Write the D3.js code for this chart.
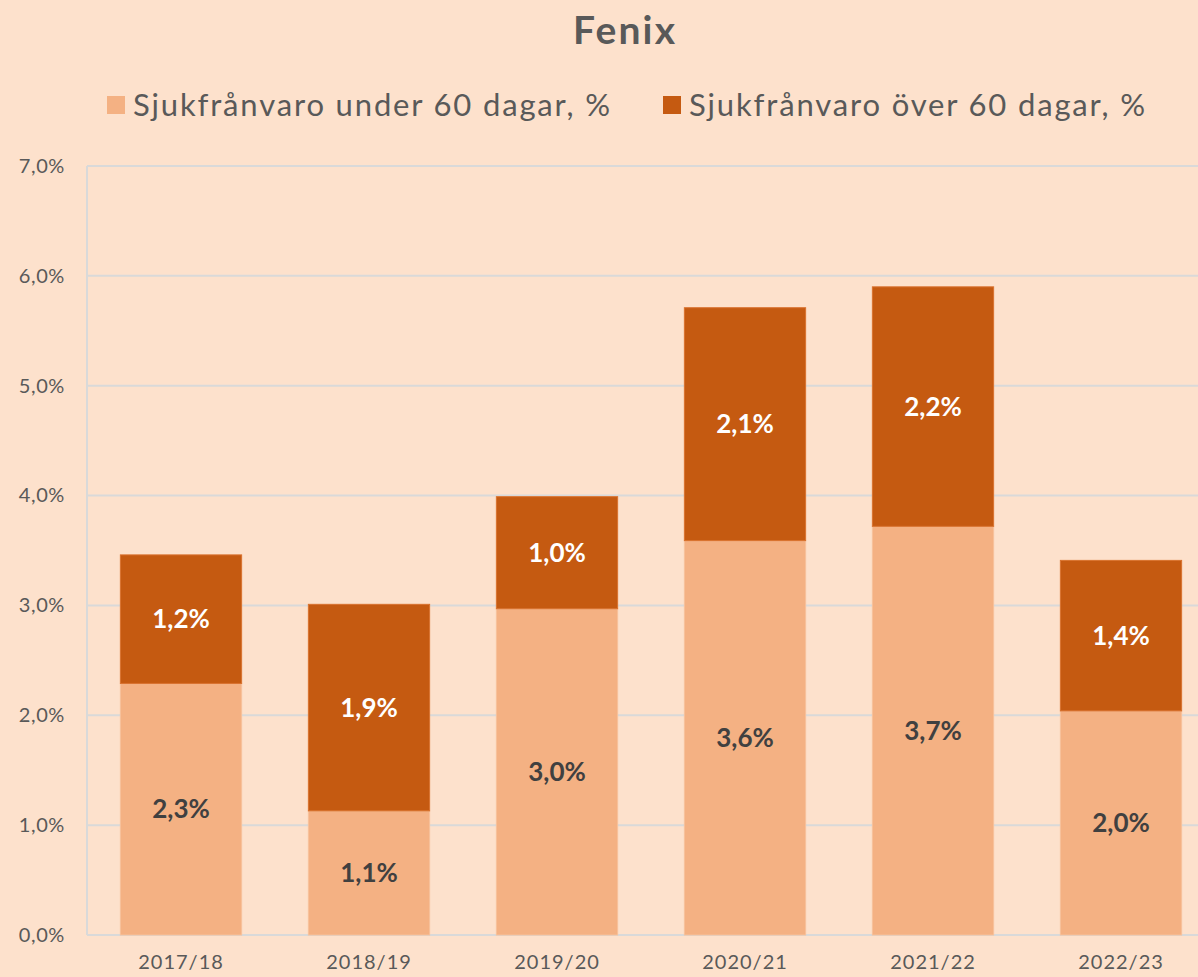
<!DOCTYPE html>
<html>
<head>
<meta charset="utf-8">
<script src="https://cdn.jsdelivr.net/npm/d3@7"></script>
<style>
  body { margin: 0; padding: 0; background: #FDE1CC; }
  svg { display: block; font-family: Lato, "Open Sans", sans-serif; }
</style>
</head>
<body>
<div id="chart"></div>
<script>
const categories = ['2017/18', '2018/19', '2019/20', '2020/21', '2021/22', '2022/23'];
const under60 = [2.29, 1.13, 2.97, 3.59, 3.72, 2.04];
const over60 = [1.17, 1.88, 1.02, 2.12, 2.18, 1.37];
const seriesNames = ['Sjukfrånvaro under 60 dagar, %', 'Sjukfrånvaro över 60 dagar, %'];
const yTicks = [0, 1, 2, 3, 4, 5, 6, 7];

const width = 1198, height = 977;
const colors = ['#F4B183', '#C55A11'];
const labelColors = ['#404040', '#ffffff'];
const fmt = v => d3.format('.1f')(v).replace('.', ',') + '%';

const svg = d3.select('#chart').append('svg')
    .attr('width', width).attr('height', height);

svg.append('rect').attr('width', width).attr('height', height).attr('fill', '#FDE1CC');

// plot area (right side runs off the picture, as in the original)
const x = d3.scaleBand().domain(categories).range([87, 1215]).paddingInner(0.355).paddingOuter(0.1775);
const y = d3.scaleLinear().domain([0, 7]).range([935, 166]);

// gridlines
svg.append('g').selectAll('line').data(yTicks).enter().append('line')
    .attr('x1', 87).attr('x2', width)
    .attr('y1', d => y(d)).attr('y2', d => y(d))
    .attr('stroke', '#D9D9D9').attr('stroke-width', 2);
svg.append('line').attr('x1', 87).attr('x2', 87).attr('y1', y(7)).attr('y2', y(0))
    .attr('stroke', '#D9D9D9').attr('stroke-width', 2);

// y axis labels
const yAxis = d3.axisLeft(y).tickValues(yTicks).tickSize(0).tickPadding(22)
    .tickFormat(d => d3.format('.1f')(d).replace('.', ',') + '%');
svg.append('g').attr('transform', 'translate(87,0)').call(yAxis)
    .call(g => g.select('.domain').remove())
    .selectAll('text').attr('font-size', 20).attr('fill', '#595959')
    .attr('font-family', 'Lato, sans-serif').attr('letter-spacing', 0.6);

// x axis labels
const xAxis = d3.axisBottom(x).tickSize(0).tickPadding(20);
svg.append('g').attr('transform', 'translate(0,' + y(0) + ')').call(xAxis)
    .call(g => g.select('.domain').remove())
    .selectAll('text').attr('font-size', 20).attr('fill', '#595959')
    .attr('font-family', 'Lato, sans-serif').attr('letter-spacing', 1);

// stacked bars
const rows = categories.map((c, i) => ({ cat: c, under: under60[i], over: over60[i] }));
const stack = d3.stack().keys(['under', 'over'])(rows);

stack.forEach((layer, k) => {
    const g = svg.append('g');
    g.selectAll('rect').data(layer).enter().append('rect')
        .attr('x', d => x(d.data.cat))
        .attr('width', x.bandwidth())
        .attr('y', d => y(d[1]))
        .attr('height', d => y(d[0]) - y(d[1]))
        .attr('fill', colors[k])
        .attr('stroke', k == 0 ? '#F7C19B' : '#D9722E').attr('stroke-width', 1);
    g.selectAll('text').data(layer).enter().append('text')
        .attr('x', d => x(d.data.cat) + x.bandwidth() / 2)
        .attr('y', d => (y(d[0]) + y(d[1])) / 2)
        .attr('dy', '0.35em')
        .attr('text-anchor', 'middle')
        .attr('font-size', 26).attr('font-weight', 'bold')
        .attr('fill', labelColors[k])
        .text(d => fmt(d[1] - d[0]));
});

// title
svg.append('text').attr('x', 624).attr('y', 44).attr('text-anchor', 'middle')
    .attr('font-size', 39).attr('font-weight', 'bold').attr('fill', '#595959')
    .attr('textLength', 102).attr('lengthAdjust', 'spacing')
    .text('Fenix');

// legend
const legendX = [107, 663];
const legendLen = [477, 456];
const leg = svg.append('g').selectAll('g').data(seriesNames).enter().append('g')
    .attr('transform', (d, i) => 'translate(' + legendX[i] + ',96)');
leg.append('rect').attr('width', 18).attr('height', 18).attr('fill', (d, i) => colors[i]);
leg.append('text').attr('x', 26).attr('y', 20)
    .attr('font-size', 31).attr('fill', '#595959')
    .attr('textLength', (d, i) => legendLen[i]).attr('lengthAdjust', 'spacing')
    .text(d => d);
</script>
</body>
</html>
